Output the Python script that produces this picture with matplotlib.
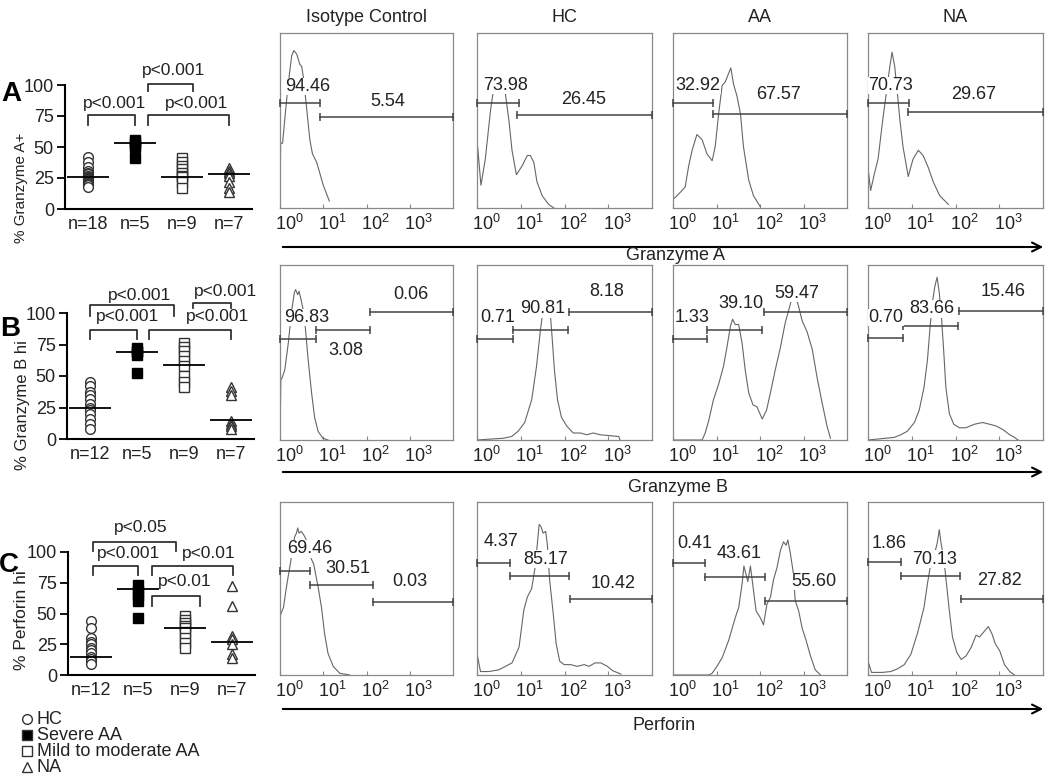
import matplotlib
matplotlib.use('Agg')
import matplotlib.pyplot as plt
from matplotlib.patches import FancyArrowPatch
from matplotlib.ticker import NullFormatter
from matplotlib.transforms import ScaledTranslation

plt.rcParams['font.family'] = ['Liberation Sans', 'DejaVu Sans']
plt.rcParams['mathtext.default'] = 'regular'

W, H = 1050, 780

# ---- scatter data (% positive cells per subject) ----
groups = ['HC', 'Severe AA', 'Mild to moderate AA', 'NA']

gzma_hc = [42, 38, 34, 31, 29, 28, 27, 26, 25, 25, 24, 24, 23, 22, 21, 20, 19, 18]
gzma_sev = [56, 54, 52, 50, 41]
gzma_mild = [41, 38, 35, 32, 29, 27, 26, 22, 17]
gzma_na = [33, 31, 29, 27, 22, 17, 14]
gzma_med = [26, 53, 26, 28]
gzma_n = ['n=18', 'n=5', 'n=9', 'n=7']

gzmb_hc = [45, 42, 37, 35, 32, 28, 25, 23, 20, 16, 12, 8]
gzmb_sev = [72, 70, 69, 67, 52]
gzmb_mild = [76, 73, 70, 66, 62, 58, 50, 45, 41]
gzmb_na = [41, 38, 35, 14, 12, 10, 8]
gzmb_med = [25, 69, 59, 15]
gzmb_n = ['n=12', 'n=5', 'n=9', 'n=7']

prf_hc = [44, 38, 30, 27, 25, 22, 20, 18, 15, 13, 11, 9]
prf_sev = [73, 68, 65, 60, 46]
prf_mild = [48, 45, 42, 40, 38, 35, 30, 26, 22]
prf_na = [72, 56, 32, 29, 25, 17, 14]
prf_med = [15, 70, 38, 27]
prf_n = ['n=12', 'n=5', 'n=9', 'n=7']

# (x0, x1, top, leg end, text, text x, text y)
gzma_brackets = [(1, 2, 76, 68, 'p<0.001', 1.55, 85),
                 (2.28, 4, 76, 68, 'p<0.001', 3.32, 85),
                 (2.28, 3.23, 101, 95, 'p<0.001', 2.83, 112)]
gzmb_brackets = [(1, 2, 86.5, 79, 'p<0.001', 1.8, 97),
                 (2.26, 4, 86.5, 79, 'p<0.001', 3.72, 97),
                 (1, 2.79, 106, 98, 'p<0.001', 2.05, 114),
                 (3.2, 4, 108, 104, 'p<0.001', 3.9, 117)]
prf_brackets = [(1.04, 2, 89, 81, 'p<0.001', 1.8, 99),
                (2.29, 4.04, 89, 81, 'p<0.01', 3.52, 99),
                (2.29, 3.33, 64, 56, 'p<0.01', 2.99, 76),
                (1.04, 2.82, 108, 101, 'p<0.05', 2.05, 120)]

# ---- histogram traces: (log10 intensity, relative count) ----
columns = ['Isotype Control', 'HC', 'AA', 'NA']

gzma_iso = [(0, 0), (0.015, 0.37), (0.06, 0.37), (0.115, 0.52), (0.19, 0.71), (0.27, 0.87),
            (0.32, 0.90), (0.385, 0.88), (0.46, 0.82), (0.5, 0.81), (0.54, 0.75), (0.62, 0.56),
            (0.69, 0.39), (0.75, 0.31), (0.85, 0.26), (1.0, 0.13), (1.14, 0.04)]
gzma_hcc = [(0, 0), (0.015, 0.35), (0.09, 0.13), (0.19, 0.28), (0.31, 0.56), (0.38, 0.68),
            (0.52, 0.72), (0.65, 0.65), (0.73, 0.50), (0.80, 0.33), (0.90, 0.19), (1.03, 0.24),
            (1.15, 0.30), (1.22, 0.30), (1.30, 0.26), (1.37, 0.15), (1.49, 0.07), (1.64, 0.02),
            (1.76, 0.0)]
gzma_aa = [(0, 0.05), (0.05, 0.06), (0.17, 0.09), (0.28, 0.12), (0.36, 0.24), (0.44, 0.33),
           (0.55, 0.42), (0.67, 0.39), (0.78, 0.31), (0.90, 0.27), (0.97, 0.35), (1.05, 0.54),
           (1.13, 0.70), (1.20, 0.72), (1.28, 0.77), (1.33, 0.80), (1.39, 0.71), (1.47, 0.64),
           (1.55, 0.54), (1.62, 0.35), (1.74, 0.16), (1.85, 0.07), (2.0, 0.01)]
gzma_naa = [(0, 0), (0.015, 0.2), (0.06, 0.10), (0.15, 0.20), (0.23, 0.28), (0.33, 0.49),
            (0.42, 0.66), (0.50, 0.81), (0.55, 0.89), (0.61, 0.81), (0.67, 0.66), (0.73, 0.50),
            (0.80, 0.35), (0.92, 0.18), (1.03, 0.28), (1.15, 0.33), (1.26, 0.30), (1.38, 0.23),
            (1.49, 0.15), (1.64, 0.07), (1.84, 0.02)]

gzmb_iso = [(0, 0), (0.02, 0.35), (0.04, 0.35), (0.11, 0.40), (0.19, 0.55), (0.27, 0.74),
            (0.33, 0.84), (0.36, 0.86), (0.41, 0.83), (0.44, 0.85), (0.48, 0.81), (0.54, 0.74),
            (0.59, 0.63), (0.65, 0.46), (0.73, 0.27), (0.80, 0.13), (0.88, 0.05), (0.99, 0.01),
            (1.11, 0.0)]
gzmb_hcc = [(0, 0), (0.60, 0.01), (0.79, 0.02), (0.94, 0.05), (1.09, 0.10), (1.25, 0.23),
            (1.36, 0.42), (1.45, 0.63), (1.51, 0.74), (1.59, 0.80), (1.67, 0.74), (1.71, 0.61),
            (1.77, 0.40), (1.84, 0.23), (1.93, 0.13), (2.05, 0.08), (2.20, 0.04), (2.36, 0.04),
            (2.51, 0.03), (2.66, 0.04), (2.81, 0.03), (3.24, 0.02), (3.27, 0)]
gzmb_aa = [(0, 0), (0.67, 0.0), (0.74, 0.04), (0.82, 0.11), (0.93, 0.23), (1.05, 0.32),
           (1.16, 0.42), (1.24, 0.53), (1.32, 0.65), (1.37, 0.69), (1.43, 0.66), (1.51, 0.66),
           (1.59, 0.55), (1.66, 0.40), (1.74, 0.27), (1.84, 0.20), (1.93, 0.19), (2.05, 0.12),
           (2.15, 0.17), (2.24, 0.27), (2.35, 0.40), (2.47, 0.53), (2.58, 0.67), (2.68, 0.76),
           (2.74, 0.82), (2.81, 0.82), (2.87, 0.78), (2.97, 0.68), (3.08, 0.62), (3.20, 0.52),
           (3.31, 0.36), (3.43, 0.21), (3.54, 0.08), (3.62, 0.01)]
gzmb_naa = [(0, 0), (0.60, 0.015), (0.75, 0.03), (0.90, 0.05), (1.06, 0.10), (1.17, 0.17),
            (1.28, 0.30), (1.36, 0.46), (1.42, 0.65), (1.48, 0.80), (1.53, 0.88), (1.58, 0.93),
            (1.63, 0.84), (1.68, 0.70), (1.73, 0.51), (1.78, 0.30), (1.86, 0.15), (1.96, 0.09),
            (2.09, 0.07), (2.24, 0.07), (2.43, 0.09), (2.62, 0.10), (2.78, 0.09), (2.93, 0.08),
            (3.08, 0.06), (3.24, 0.03), (3.35, 0.015), (3.43, 0)]

prf_iso = [(0, 0.34), (0.08, 0.39), (0.15, 0.51), (0.23, 0.63), (0.29, 0.72), (0.34, 0.80),
           (0.38, 0.82), (0.41, 0.85), (0.44, 0.82), (0.49, 0.83), (0.55, 0.81), (0.61, 0.78),
           (0.69, 0.69), (0.78, 0.64), (0.88, 0.51), (0.96, 0.39), (1.03, 0.24), (1.11, 0.125),
           (1.23, 0.05), (1.38, 0.01), (1.61, 0.0)]
prf_hcc = [(0, 0), (0.015, 0.105), (0.08, 0.02), (0.27, 0.02), (0.50, 0.03), (0.65, 0.05),
           (0.80, 0.07), (0.96, 0.16), (1.07, 0.375), (1.15, 0.45), (1.25, 0.50), (1.32, 0.61),
           (1.38, 0.76), (1.42, 0.87), (1.46, 0.86), (1.51, 0.82), (1.57, 0.83), (1.61, 0.75),
           (1.66, 0.55), (1.74, 0.36), (1.81, 0.18), (1.89, 0.08), (1.99, 0.06), (2.14, 0.06),
           (2.29, 0.05), (2.45, 0.06), (2.56, 0.05), (2.70, 0.07), (2.83, 0.07), (2.98, 0.05),
           (3.10, 0.025), (3.29, 0.005)]
prf_aa = [(0, 0), (0.82, 0), (0.90, 0.01), (1.01, 0.05), (1.13, 0.10), (1.28, 0.20),
          (1.43, 0.33), (1.51, 0.39), (1.59, 0.53), (1.63, 0.63), (1.68, 0.58), (1.72, 0.54),
          (1.78, 0.63), (1.83, 0.53), (1.91, 0.37), (2.01, 0.33), (2.08, 0.29), (2.16, 0.41),
          (2.24, 0.45), (2.31, 0.55), (2.39, 0.62), (2.47, 0.72), (2.54, 0.77), (2.60, 0.75),
          (2.64, 0.78), (2.70, 0.70), (2.76, 0.60), (2.81, 0.43), (2.89, 0.37), (2.97, 0.27),
          (3.06, 0.20), (3.16, 0.11), (3.27, 0.03), (3.39, 0)]
prf_naa = [(0, 0), (0.02, 0.065), (0.08, 0.015), (0.33, 0.015), (0.52, 0.02), (0.67, 0.035),
           (0.83, 0.06), (0.98, 0.12), (1.13, 0.24), (1.28, 0.39), (1.36, 0.53), (1.44, 0.65),
           (1.51, 0.69), (1.58, 0.76), (1.63, 0.84), (1.67, 0.76), (1.73, 0.68), (1.78, 0.56),
           (1.86, 0.37), (1.93, 0.22), (2.03, 0.13), (2.13, 0.09), (2.24, 0.11), (2.36, 0.16),
           (2.47, 0.23), (2.55, 0.22), (2.65, 0.25), (2.75, 0.28), (2.83, 0.24), (2.91, 0.18),
           (3.01, 0.14), (3.12, 0.06), (3.24, 0.02), (3.35, 0.0)]

# gates: (log10 start, log10 end, height); labels: (percent, log10 x, height)
gzma_gates = [[(0, 0.92, 0.60), (0.92, 4, 0.52)],
              [(0, 0.95, 0.60), (0.92, 4, 0.53)],
              [(0, 0.93, 0.60), (0.93, 4, 0.54)],
              [(0, 0.94, 0.60), (0.92, 4, 0.55)]]
gzma_pct = [[('94.46', 0.63, 0.695), ('5.54', 2.5, 0.61)],
            [('73.98', 0.65, 0.70), ('26.45', 2.44, 0.62)],
            [('32.92', 0.57, 0.70), ('67.57', 2.43, 0.65)],
            [('70.73', 0.51, 0.70), ('29.67', 2.41, 0.65)]]

gzmb_gates = [[(0, 0.83, 0.58), (0.83, 2.09, 0.63), (2.09, 4, 0.73)],
              [(0, 0.83, 0.575), (0.83, 2.07, 0.63), (2.10, 4, 0.73)],
              [(0, 0.78, 0.575), (0.78, 2.05, 0.63), (2.10, 4, 0.73)],
              [(0, 0.81, 0.585), (0.79, 2.05, 0.65), (2.07, 4, 0.74)]]
gzmb_pct = [[('96.83', 0.61, 0.70), ('3.08', 1.53, 0.51), ('0.06', 3.02, 0.83)],
            [('0.71', 0.48, 0.70), ('90.81', 1.51, 0.75), ('8.18', 2.97, 0.85)],
            [('1.33', 0.44, 0.70), ('39.10', 1.55, 0.78), ('59.47', 2.85, 0.84)],
            [('0.70', 0.41, 0.70), ('83.66', 1.45, 0.75), ('15.46', 3.08, 0.85)]]

prf_gates = [[(0, 0.70, 0.60), (0.70, 2.15, 0.52), (2.15, 4, 0.42)],
             [(0, 0.75, 0.65), (0.75, 2.10, 0.57), (2.13, 4, 0.44)],
             [(0, 0.74, 0.65), (0.74, 2.11, 0.565), (2.11, 4, 0.43)],
             [(0, 0.75, 0.655), (0.75, 2.10, 0.575), (2.13, 4, 0.44)]]
prf_pct = [[('69.46', 0.69, 0.73), ('30.51', 1.57, 0.615), ('0.03', 2.99, 0.54)],
           [('4.37', 0.54, 0.77), ('85.17', 1.57, 0.67), ('10.42', 3.10, 0.53)],
           [('0.41', 0.51, 0.76), ('43.61', 1.52, 0.70), ('55.60', 3.23, 0.54)],
           [('1.86', 0.48, 0.76), ('70.13', 1.53, 0.67), ('27.82', 3.00, 0.545)]]

TXT = '#222222'


def px_axes(fig, left, top, right, bottom):
    return fig.add_axes([left / W, 1 - bottom / H, (right - left) / W, (bottom - top) / H])


def draw_scatter(ax, hc, sev, mild, na, med, nlab, brackets):
    ax.plot([1] * len(hc), hc, 'o', ms=7, mfc='white', mec='#333', mew=1.0, clip_on=False)
    ax.plot([2] * len(sev), sev, 's', ms=7, mfc='black', mec='black', mew=1.0, clip_on=False)
    ax.plot([3] * len(mild), mild, 's', ms=7, mfc='white', mec='#333', mew=1.0, clip_on=False)
    ax.plot([4] * len(na), na, '^', ms=7, mfc='white', mec='#333', mew=1.0, clip_on=False)
    for i, m in enumerate(med):
        ax.hlines(m, i + 1 - 0.45, i + 1 + 0.45, color='black', lw=1.3)
    for x0, x1, top, leg, txt, tx, ty in brackets:
        ax.plot([x0, x0, x1, x1], [leg, top, top, leg], color='#333', lw=1.3, clip_on=False)
        ax.text(tx, ty, txt, ha='center', va='center', fontsize=12.5, color=TXT, clip_on=False)
    ax.set_xlim(0.5, 4.5)
    ax.set_ylim(0, 100)
    ax.set_yticks([0, 25, 50, 75, 100])
    ax.set_xticks([1, 2, 3, 4])
    ax.set_xticklabels(nlab)
    for s in ['top', 'right']:
        ax.spines[s].set_visible(False)
    for s in ['left', 'bottom']:
        ax.spines[s].set_linewidth(1.5)
    ax.tick_params(axis='y', length=6, width=1.3, labelsize=13, pad=2, labelcolor=TXT)
    ax.tick_params(axis='x', length=0, labelsize=13, pad=5, labelcolor=TXT)


def draw_hist(fig, ax, curve, gates, pct):
    ax.plot([10 ** d for d, _ in curve], [v for _, v in curve], color='#666', lw=0.8, zorder=2)
    for x0, x1, y in gates:
        ax.plot([10 ** x0, 10 ** x1], [y, y], color='#444', lw=1.1, zorder=3, clip_on=False)
        ax.plot([10 ** x0, 10 ** x1], [y, y], ls='none', marker='|', ms=6, mew=1.1,
                color='#444', zorder=3, clip_on=False)
    for txt, x, y in pct:
        ax.text(10 ** x, y, txt, ha='center', va='center', fontsize=13, color=TXT, zorder=4,
                bbox=dict(fc='white', ec='none', pad=0.3))
    ax.set_xscale('log')
    ax.set_xlim(1, 1e4)
    ax.set_ylim(0, 1)
    ax.set_yticks([])
    ax.set_xticks([1, 10, 100, 1000])
    ax.set_xticklabels([r'$10^{0}$', r'$10^{1}$', r'$10^{2}$', r'$10^{3}$'])
    ax.xaxis.set_minor_formatter(NullFormatter())
    ax.tick_params(axis='x', which='major', direction='in', length=3, color='#888',
                   labelsize=13, pad=4, labelcolor=TXT)
    ax.tick_params(axis='x', which='minor', direction='in', length=2, color='#888')
    for s in ax.spines.values():
        s.set_color('#888')
        s.set_linewidth(0.9)
    offset = ScaledTranslation(9 / 100, 0, fig.dpi_scale_trans)
    for lab in ax.get_xticklabels():
        lab.set_transform(lab.get_transform() + offset)


fig = plt.figure(figsize=(W / 100, H / 100), dpi=100)

# scatter panels
ax_a = px_axes(fig, 65, 85, 252, 209)
draw_scatter(ax_a, gzma_hc, gzma_sev, gzma_mild, gzma_na, gzma_med, gzma_n, gzma_brackets)
ax_b = px_axes(fig, 67, 313, 254, 439)
draw_scatter(ax_b, gzmb_hc, gzmb_sev, gzmb_mild, gzmb_na, gzmb_med, gzmb_n, gzmb_brackets)
ax_c = px_axes(fig, 68, 552, 255, 675)
draw_scatter(ax_c, prf_hc, prf_sev, prf_mild, prf_na, prf_med, prf_n, prf_brackets)

# y labels sit below the panel letters
for txt, x, y, size in [('% Granzyme A+', 21, 188, 11), ('% Granzyme B hi', 23, 405, 12),
                        ('% Perforin hi', 22, 620, 12.5)]:
    fig.text(x / W, 1 - y / H, txt, rotation=90, fontsize=size, color=TXT,
             ha='center', va='center')

for letter, x, y in [('A', 11, 94), ('B', 10, 329), ('C', 9, 565)]:
    fig.text(x / W, 1 - y / H, letter, fontsize=20, fontweight='bold', ha='center', va='center')

# histogram panels
col_left = [280, 477, 673, 868]
col_right = [453, 652, 847, 1043]
rows = [
    (33, 208, [gzma_iso, gzma_hcc, gzma_aa, gzma_naa], gzma_gates, gzma_pct, 247, 'Granzyme A', 676, 256),
    (265, 440, [gzmb_iso, gzmb_hcc, gzmb_aa, gzmb_naa], gzmb_gates, gzmb_pct, 472, 'Granzyme B', 678, 488),
    (502, 675, [prf_iso, prf_hcc, prf_aa, prf_naa], prf_gates, prf_pct, 709, 'Perforin', 664, 725),
]
for top, bottom, curves, gates, pct, arrow_y, xlabel, lx, ly in rows:
    for j in range(4):
        ax = px_axes(fig, col_left[j], top, col_right[j], bottom)
        draw_hist(fig, ax, curves[j], gates[j], pct[j])
    arr = FancyArrowPatch((280 / W, 1 - arrow_y / H), (1046 / W, 1 - arrow_y / H),
                          transform=fig.transFigure, arrowstyle='->', mutation_scale=16,
                          lw=1.5, color='black')
    fig.add_artist(arr)
    fig.text(lx / W, 1 - ly / H, xlabel, fontsize=13, color=TXT, ha='center', va='center')

for j, name in enumerate(columns):
    fig.text((col_left[j] + col_right[j]) / 2 / W, 1 - 18 / H, name, fontsize=13, color=TXT,
             ha='center', va='center')

# legend for the scatter symbols
leg_marks = [('o', 'white'), ('s', 'black'), ('s', 'white'), ('^', 'white')]
for k, (name, (mk, fc)) in enumerate(zip(groups, leg_marks)):
    y = 1 - (719 + 16 * k) / H
    fig.lines.append(plt.Line2D([27 / W], [y], marker=mk, ms=7, mfc=fc, mec='#333', mew=1.0,
                                ls='none', transform=fig.transFigure))
    fig.text(37 / W, y, name, fontsize=13, color=TXT, ha='left', va='center')

fig.savefig('out.png', dpi=100)
